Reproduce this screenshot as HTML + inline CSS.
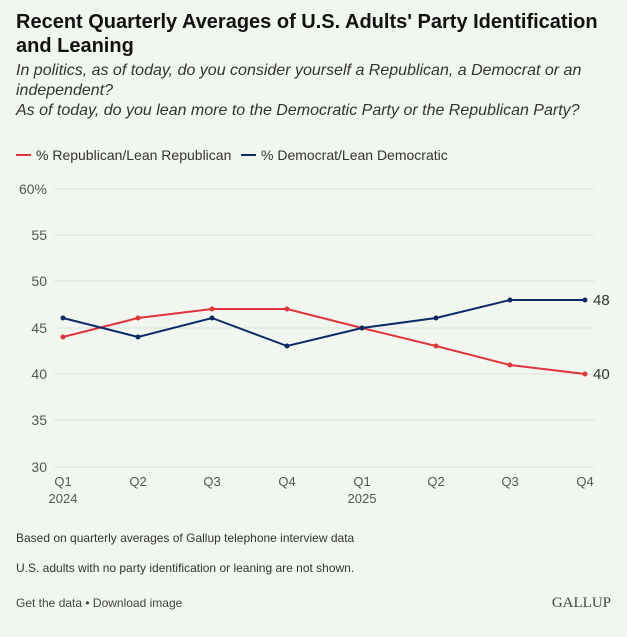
<!DOCTYPE html>
<html><head><style>
body{margin:0;background:#f1f6ef;width:627px;height:637px;overflow:hidden;font-family:"Liberation Sans",sans-serif;color:#222}
.t{position:absolute;left:16px;top:10px;font-size:20px;font-weight:bold;line-height:24px;width:620px;color:#111;white-space:nowrap}
.s{position:absolute;left:16px;top:61px;font-size:16px;font-style:italic;line-height:20px;color:#333;width:600px}
.n{position:absolute;left:16px;font-size:12px;color:#333}
</style></head><body>
<div class="t">Recent Quarterly Averages of U.S. Adults' Party Identification<br>and Leaning</div>
<div class="s">In politics, as of today, do you consider yourself a Republican, a Democrat or an independent?<br>As of today, do you lean more to the Democratic Party or the Republican Party?</div>
<svg width="627" height="637" style="position:absolute;left:0;top:0" font-family="Liberation Sans,sans-serif">
<line x1="16" y1="155" x2="31" y2="155" stroke="#e0343b" stroke-width="2"/>
<text x="36" y="160" font-size="14" fill="#333">% Republican/Lean Republican</text>
<line x1="241" y1="155" x2="256" y2="155" stroke="#0c2a66" stroke-width="2"/>
<text x="261" y="160" font-size="14" fill="#333">% Democrat/Lean Democratic</text>
<g stroke="#dde3dc" stroke-width="1">
<line x1="54" x2="595" y1="189" y2="189"/><line x1="54" x2="595" y1="235" y2="235"/>
<line x1="54" x2="595" y1="281" y2="281"/><line x1="54" x2="595" y1="328" y2="328"/>
<line x1="54" x2="595" y1="374" y2="374"/><line x1="54" x2="595" y1="420" y2="420"/>
<line x1="54" x2="595" y1="467" y2="467"/></g>
<g font-size="14" fill="#555" text-anchor="end">
<text x="47" y="194">60%</text><text x="47" y="240">55</text><text x="47" y="286">50</text>
<text x="47" y="333">45</text><text x="47" y="379">40</text><text x="47" y="425">35</text><text x="47" y="472">30</text></g>
<g font-size="13" fill="#555" text-anchor="middle">
<text x="63" y="486">Q1</text><text x="63" y="503">2024</text><text x="138" y="486">Q2</text>
<text x="212" y="486">Q3</text><text x="287" y="486">Q4</text><text x="362" y="486">Q1</text>
<text x="362" y="503">2025</text><text x="436" y="486">Q2</text><text x="510" y="486">Q3</text><text x="585" y="486">Q4</text></g>
<g fill="#e0343b"><polyline fill="none" stroke="#e0343b" stroke-width="2" points="63,337 138,318 212,309 287,309 362,328 436,346 510,365 585,374"/>
<circle cx="63" cy="337" r="2.5"/><circle cx="138" cy="318" r="2.5"/><circle cx="212" cy="309" r="2.5"/><circle cx="287" cy="309" r="2.5"/><circle cx="362" cy="328" r="2.5"/><circle cx="436" cy="346" r="2.5"/><circle cx="510" cy="365" r="2.5"/><circle cx="585" cy="374" r="2.5"/></g>
<g fill="#0c2a66"><polyline fill="none" stroke="#0c2a66" stroke-width="2" points="63,318 138,337 212,318 287,346 362,328 436,318 510,300 585,300"/>
<circle cx="63" cy="318" r="2.5"/><circle cx="138" cy="337" r="2.5"/><circle cx="212" cy="318" r="2.5"/><circle cx="287" cy="346" r="2.5"/><circle cx="362" cy="328" r="2.5"/><circle cx="436" cy="318" r="2.5"/><circle cx="510" cy="300" r="2.5"/><circle cx="585" cy="300" r="2.5"/></g>
<text x="593" y="305" font-size="15" fill="#333">48</text>
<text x="593" y="379" font-size="15" fill="#333">40</text>
<text x="611" y="607" font-size="15" font-family="Liberation Serif,serif" fill="#444" text-anchor="end">GALLUP</text>
</svg>
<div class="n" style="top:531px">Based on quarterly averages of Gallup telephone interview data</div>
<div class="n" style="top:561px">U.S. adults with no party identification or leaning are not shown.</div>
<div class="n" style="top:596px;color:#444">Get the data • Download image</div>
</body></html>
